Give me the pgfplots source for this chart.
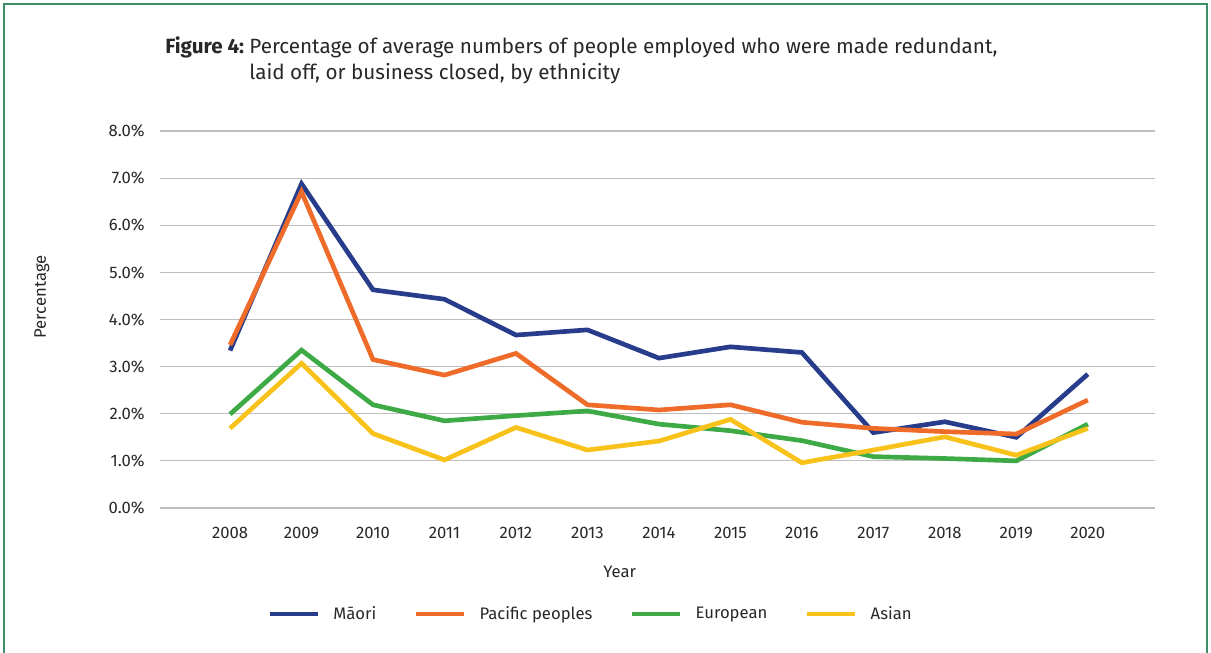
\documentclass[border=0pt]{standalone}
\usepackage{pgfplots}
\pgfplotsset{compat=1.18}
\usepackage{fontspec}
\setmainfont{Fira Sans}
\definecolor{maori}{RGB}{40,60,140}
\definecolor{pacific}{RGB}{238,107,42}
\definecolor{european}{RGB}{61,170,70}
\definecolor{asian}{RGB}{248,194,26}
\definecolor{frame}{RGB}{62,140,104}
\definecolor{gridc}{RGB}{190,190,190}
\definecolor{txt}{RGB}{40,40,40}
\begin{document}
\begin{tikzpicture}
\path[use as bounding box] (0,0) rectangle (908.25pt,489.75pt);
\draw[frame, line width=2pt] (3pt,-2pt) -- (3pt,486.75pt) -- (905.25pt,486.75pt) -- (905.25pt,-2pt);
\node[anchor=base west, inner sep=0pt, text=txt, font=\fontsize{15.5}{17}\selectfont\bfseries] (fig) at (123.75pt,449.25pt) {Figure 4:};
\node[anchor=base west, inner sep=0pt, text=txt, font=\fontsize{15.5}{17}\selectfont] (t1) at ([xshift=3.5pt]fig.base east) {Percentage of average numbers of people employed who were made redundant,};
\node[anchor=base west, inner sep=0pt, text=txt, font=\fontsize{15.5}{17}\selectfont] at ([yshift=-19pt]t1.base west) {laid off, or business closed, by ethnicity};
\begin{axis}[
  at={(120pt,108.75pt)}, anchor=south west,
  scale only axis, width=746.25pt, height=282.75pt,
  xmin=2007.02, xmax=2020.94, ymin=0, ymax=8,
  xtick={2008,...,2020},
  xticklabels={2008,2009,2010,2011,2012,2013,2014,2015,2016,2017,2018,2019,2020},
  ytick={0,1,...,8},
  yticklabels={0.0\%,1.0\%,2.0\%,3.0\%,4.0\%,5.0\%,6.0\%,7.0\%,8.0\%},
  ymajorgrids, major grid style={gridc, line width=0.8pt},
  axis line style={draw=none},
  tick style={draw=none},
  ticklabel style={font=\fontsize{12.5}{14}\selectfont, text=txt},
  xticklabel style={yshift=-11pt},
  yticklabel style={xshift=-8pt},
  xlabel={Year}, ylabel={Percentage},
  label style={font=\fontsize{12.5}{14}\selectfont, text=txt},
  xlabel style={at={(axis description cs:0.462,-0.170)}, anchor=center},
  ylabel style={at={(axis description cs:-0.1186,0.56)}, anchor=center},
  legend columns=4,
  legend style={draw=none, fill=none, at={(axis description cs:0.433,-0.2815)}, anchor=center,
    font=\fontsize{12.5}{14}\selectfont, text=txt,
    /tikz/every odd column/.append style={column sep=8pt},
    /tikz/every even column/.append style={column sep=26pt}},
  legend image code/.code={\draw[#1, line width=3.5pt] (0pt,0pt) -- (36pt,0pt);},
  every axis plot/.append style={line width=3.5pt, line join=miter},
]
\addplot[maori] coordinates {(2008,3.34) (2009,6.88) (2010,4.63) (2011,4.43) (2012,3.67) (2013,3.78) (2014,3.18) (2015,3.42) (2016,3.30) (2017,1.60) (2018,1.83) (2019,1.50) (2020,2.84)};
\addlegendentry{Māori}
\addplot[pacific] coordinates {(2008,3.46) (2009,6.71) (2010,3.15) (2011,2.82) (2012,3.28) (2013,2.19) (2014,2.08) (2015,2.19) (2016,1.82) (2017,1.69) (2018,1.62) (2019,1.57) (2020,2.29)};
\addlegendentry{Pacific peoples}
\addplot[european] coordinates {(2008,1.99) (2009,3.35) (2010,2.19) (2011,1.85) (2012,1.96) (2013,2.06) (2014,1.78) (2015,1.64) (2016,1.43) (2017,1.09) (2018,1.05) (2019,1.00) (2020,1.78)};
\addlegendentry{European}
\addplot[asian] coordinates {(2008,1.69) (2009,3.07) (2010,1.58) (2011,1.02) (2012,1.71) (2013,1.23) (2014,1.42) (2015,1.88) (2016,0.96) (2017,1.23) (2018,1.51) (2019,1.12) (2020,1.69)};
\addlegendentry{Asian}
\end{axis}
\end{tikzpicture}
\end{document}
